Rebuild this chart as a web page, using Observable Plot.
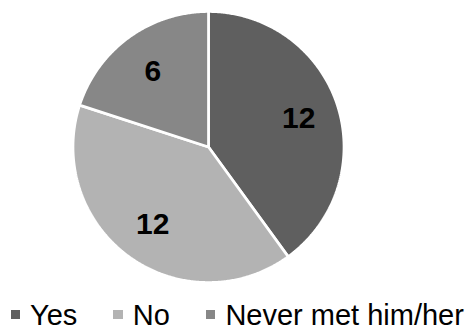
<!DOCTYPE html>
<html>
<head>
<meta charset="utf-8">
<script src="https://cdn.jsdelivr.net/npm/d3@7"></script>
<script src="https://cdn.jsdelivr.net/npm/@observablehq/plot@0.6"></script>
<style>
  html, body { margin: 0; padding: 0; background: #fff; }
  body { width: 466px; height: 331px; position: relative; overflow: hidden; font-family: "Liberation Sans", Arial, sans-serif; }
  #chart svg { display: block; }
  .legend { position: absolute; left: 10.5px; top: 301.5px; width: 460px; display: flex; flex-wrap: nowrap; white-space: nowrap; align-items: center; font-size: 29px; line-height: 26px; color: #000; }
  .legend .item { display: flex; flex: none; align-items: center; margin-right: 36px; }
  .legend .swatch { width: 9.5px; height: 9.5px; margin-right: 10px; flex: none; }
</style>
</head>
<body>
<div id="chart"></div>
<div class="legend" id="legend"></div>
<script>
// Answers and their counts
const categories = ["Yes", "No", "Never met him/her"];
const counts = [12, 12, 6];
const colors = ["#5f5f5f", "#b3b3b3", "#878787"];

// Slice angles: start at 12 o'clock, go clockwise, keep input order
const arcs = d3.pie().sort(null).value(d => d)(counts);

// Each slice as a closed polygon in unit-circle coordinates (y up)
const slices = [];
arcs.forEach((a, i) => {
  const cat = categories[i];
  slices.push({cat, x: 0, y: 0});
  const n = Math.max(2, Math.ceil((a.endAngle - a.startAngle) / (Math.PI / 360)));
  for (let k = 0; k <= n; k++) {
    const t = a.startAngle + (a.endAngle - a.startAngle) * k / n;
    slices.push({cat, x: Math.sin(t), y: Math.cos(t)});
  }
  slices.push({cat, x: 0, y: 0});
});

// Value labels on each slice's middle angle
const labelRadius = 0.7;
const labels = arcs.map((a, i) => {
  const m = (a.startAngle + a.endAngle) / 2;
  return {cat: categories[i], value: counts[i], x: labelRadius * Math.sin(m), y: labelRadius * Math.cos(m)};
});

const chart = Plot.plot({
  width: 466,
  height: 300,
  marginLeft: 72.5,
  marginRight: 122.5,
  marginTop: 11,
  marginBottom: 18,
  x: {domain: [-1, 1], axis: null},
  y: {domain: [-1, 1], axis: null},
  color: {domain: categories, range: colors},
  style: {fontFamily: "'Liberation Sans', Arial, sans-serif", background: "#fff"},
  marks: [
    Plot.line(slices, {
      x: "x", y: "y", z: "cat", fill: "cat",
      stroke: "white", strokeWidth: 2.7, strokeLinejoin: "miter", curve: "linear"
    }),
    Plot.text(labels, {
      x: "x", y: "y", text: d => String(d.value),
      fontSize: 30, fontWeight: "bold", fill: "#000", dy: 1
    })
  ]
});
document.getElementById("chart").appendChild(chart);

// Legend below the chart
const legend = document.getElementById("legend");
categories.forEach((c, i) => {
  const item = document.createElement("div");
  item.className = "item";
  const sw = document.createElement("div");
  sw.className = "swatch";
  sw.style.background = colors[i];
  const label = document.createElement("span");
  label.textContent = c;
  item.appendChild(sw);
  item.appendChild(label);
  legend.appendChild(item);
});
</script>
</body>
</html>
